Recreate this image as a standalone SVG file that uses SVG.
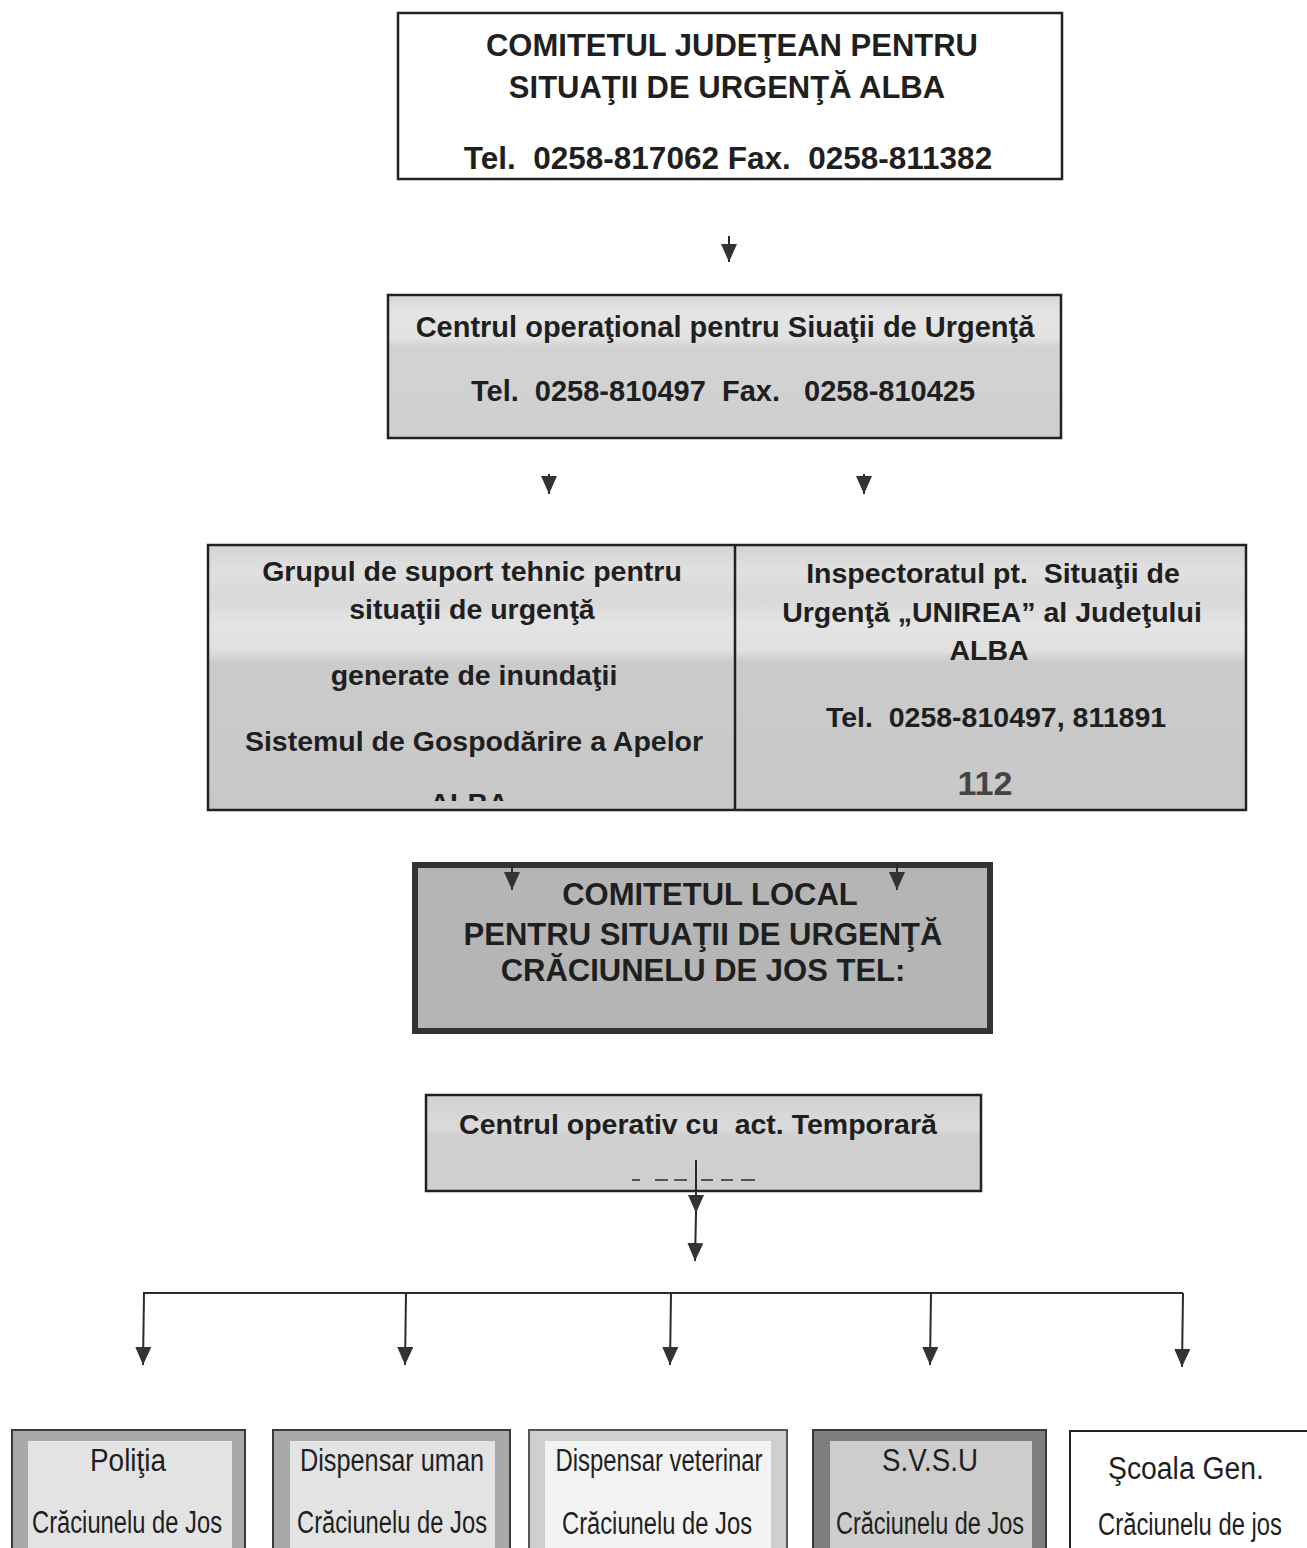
<svg xmlns="http://www.w3.org/2000/svg" width="1307" height="1548" viewBox="0 0 1307 1548" xml:space="preserve">
<defs>
<style>
text{white-space:pre}
.b{font-family:"Liberation Sans",Arial,sans-serif;font-weight:bold;fill:#1f1f1f;text-anchor:middle}
.r{font-family:"Liberation Sans",Arial,sans-serif;font-weight:normal;fill:#1f1f1f;text-anchor:middle;font-size:31px}
.box{stroke:#222;stroke-width:2.5}
.con{stroke:#2a2a2a;stroke-width:2;fill:none}
</style>
<marker id="arr" markerUnits="userSpaceOnUse" markerWidth="18" markerHeight="16" viewBox="0 0 18 16" refX="18" refY="8" orient="auto">
<path d="M0,0 L18,8 L0,16 Z" fill="#333"/>
</marker>
<linearGradient id="g2" x1="0" y1="0" x2="0" y2="1">
<stop offset="0" stop-color="#d6d6d6"/>
<stop offset="0.12" stop-color="#e4e4e4"/>
<stop offset="0.3" stop-color="#e2e2e2"/>
<stop offset="0.36" stop-color="#d3d3d3"/>
<stop offset="1" stop-color="#cfcfcf"/>
</linearGradient>
<linearGradient id="g3" x1="0" y1="0" x2="0" y2="1">
<stop offset="0" stop-color="#d4d4d4"/>
<stop offset="0.1" stop-color="#e0e0e0"/>
<stop offset="0.2" stop-color="#d8d8d8"/>
<stop offset="0.3" stop-color="#e4e4e4"/>
<stop offset="0.4" stop-color="#e0e0e0"/>
<stop offset="0.44" stop-color="#cbcbcb"/>
<stop offset="1" stop-color="#c8c8c8"/>
</linearGradient>
<linearGradient id="g5" x1="0" y1="0" x2="0" y2="1">
<stop offset="0" stop-color="#d2d2d2"/>
<stop offset="0.35" stop-color="#dadada"/>
<stop offset="0.42" stop-color="#d0d0d0"/>
<stop offset="1" stop-color="#cfcfcf"/>
</linearGradient>
<clipPath id="clipAlba"><rect x="380" y="770" width="200" height="31"/></clipPath>
</defs>

<g id="connectors">
<line class="con" x1="729" y1="236" x2="729" y2="262" marker-end="url(#arr)"/>
<line class="con" x1="549" y1="474" x2="549" y2="494" marker-end="url(#arr)"/>
<line class="con" x1="864" y1="474" x2="864" y2="494" marker-end="url(#arr)"/>
</g>

<g id="n1">
<rect class="box" x="398" y="13" width="664" height="166" fill="#fff"/>
<text class="b" font-size="31" x="732" y="56">COMITETUL JUDEŢEAN PENTRU</text>
<text class="b" font-size="31" x="727" y="98">SITUAŢII DE URGENŢĂ ALBA</text>
<text class="b" font-size="31.5" x="728" y="169">Tel.  0258-817062 Fax.  0258-811382</text>
</g>

<g id="n2">
<rect class="box" x="388" y="295" width="673" height="143" fill="url(#g2)"/>
<text class="b" font-size="29" x="725" y="337">Centrul operaţional pentru Siuaţii de Urgenţă</text>
<text class="b" font-size="29" x="723" y="401">Tel.  0258-810497  Fax.   0258-810425</text>
</g>

<g id="n3">
<rect class="box" x="208" y="545" width="1038" height="265" fill="url(#g3)"/>
<line x1="735" y1="545" x2="735" y2="810" stroke="#222" stroke-width="2.5"/>
<text class="b" font-size="28.5" x="472" y="581">Grupul de suport tehnic pentru</text>
<text class="b" font-size="28.5" x="472" y="619">situaţii de urgenţă</text>
<text class="b" font-size="28.5" x="474" y="685">generate de inundaţii</text>
<text class="b" font-size="28.5" x="474" y="751">Sistemul de Gospodărire a Apelor</text>
<text class="b" font-size="28.5" x="469" y="813" clip-path="url(#clipAlba)">ALBA</text>
</g>

<g id="n4">
<text class="b" font-size="28.5" x="993" y="583">Inspectoratul pt.  Situaţii de</text>
<text class="b" font-size="28.5" x="992" y="622">Urgenţă „UNIREA” al Judeţului</text>
<text class="b" font-size="28.5" x="989" y="660">ALBA</text>
<text class="b" font-size="28.5" x="996" y="727">Tel.  0258-810497, 811891</text>
<text class="b" font-size="34" x="985" y="795" style="fill:#444">112</text>
</g>

<g id="n5">
<rect x="415" y="865" width="575" height="166" fill="#b5b5b5" stroke="#333" stroke-width="6"/>
<text class="b" font-size="31" x="710" y="905">COMITETUL LOCAL</text>
<text class="b" font-size="31" x="703" y="945">PENTRU SITUAŢII DE URGENŢĂ</text>
<text class="b" font-size="31" x="703" y="981">CRĂCIUNELU DE JOS TEL:</text>
</g>

<g id="n6">
<rect class="box" x="426" y="1095" width="555" height="96" fill="url(#g5)"/>
<text class="b" font-size="28.5" x="698" y="1134">Centrul operativ cu  act. Temporară</text>
<g stroke="#555" stroke-width="2">
<line x1="632" y1="1180" x2="640" y2="1180"/>
<line x1="655" y1="1180" x2="668" y2="1180"/>
<line x1="674" y1="1180" x2="687" y2="1180"/>
<line x1="701" y1="1180" x2="713" y2="1180"/>
<line x1="721" y1="1180" x2="733" y2="1180"/>
<line x1="741" y1="1180" x2="755" y2="1180"/>
</g>
</g>

<g id="connectors2">
<line class="con" x1="512" y1="863" x2="512" y2="890" marker-end="url(#arr)"/>
<line class="con" x1="897" y1="863" x2="897" y2="890" marker-end="url(#arr)"/>
<line class="con" x1="696" y1="1160" x2="696" y2="1213" marker-end="url(#arr)"/>
<line class="con" x1="696" y1="1213" x2="695" y2="1261" marker-end="url(#arr)"/>
<polyline class="con" points="143,1293 1183,1293"/>
<line class="con" x1="144" y1="1293" x2="143" y2="1365" marker-end="url(#arr)"/>
<line class="con" x1="406" y1="1293" x2="405" y2="1365" marker-end="url(#arr)"/>
<line class="con" x1="671" y1="1293" x2="670" y2="1365" marker-end="url(#arr)"/>
<line class="con" x1="931" y1="1293" x2="930" y2="1365" marker-end="url(#arr)"/>
<line class="con" x1="1183" y1="1293" x2="1182" y2="1367" marker-end="url(#arr)"/>
</g>

<g id="n7">
<rect x="12" y="1430" width="233" height="130" fill="#a9a9a9" stroke="#3a3a3a" stroke-width="2"/>
<rect x="28" y="1441" width="204" height="120" fill="#e3e3e3"/>
<text class="r" x="128" y="1471" textLength="76" lengthAdjust="spacingAndGlyphs">Poliţia</text>
<text class="r" x="127" y="1533" textLength="190" lengthAdjust="spacingAndGlyphs">Crăciunelu de Jos</text>
</g>

<g id="n8">
<rect x="273" y="1430" width="237" height="130" fill="#a9a9a9" stroke="#3a3a3a" stroke-width="2"/>
<rect x="290" y="1441" width="205" height="120" fill="#e3e3e3"/>
<text class="r" x="392" y="1471" textLength="184" lengthAdjust="spacingAndGlyphs">Dispensar uman</text>
<text class="r" x="392" y="1533" textLength="190" lengthAdjust="spacingAndGlyphs">Crăciunelu de Jos</text>
</g>

<g id="n9">
<rect x="529" y="1430" width="258" height="130" fill="#cfcfcf" stroke="#555" stroke-width="2"/>
<rect x="545" y="1441" width="226" height="120" fill="#f3f3f3"/>
<text class="r" x="659" y="1471" textLength="207" lengthAdjust="spacingAndGlyphs">Dispensar veterinar</text>
<text class="r" x="657" y="1534" textLength="190" lengthAdjust="spacingAndGlyphs">Crăciunelu de Jos</text>
</g>

<g id="n10">
<rect x="813" y="1430" width="233" height="130" fill="#7e7e7e" stroke="#3a3a3a" stroke-width="2"/>
<rect x="830" y="1441" width="202" height="120" fill="#cdcdcd"/>
<text class="r" x="930" y="1471" textLength="96" lengthAdjust="spacingAndGlyphs">S.V.S.U</text>
<text class="r" x="930" y="1534" textLength="188" lengthAdjust="spacingAndGlyphs">Crăciunelu de Jos</text>
</g>

<g id="n11">
<rect x="1070" y="1431" width="245" height="130" fill="#fff" stroke="#222" stroke-width="2"/>
<text class="r" x="1186" y="1479" textLength="156" lengthAdjust="spacingAndGlyphs">Şcoala Gen.</text>
<text class="r" x="0" y="0" transform="translate(1190 1535) scale(0.768 1)">Crăciunelu de jos</text>
</g>
</svg>
